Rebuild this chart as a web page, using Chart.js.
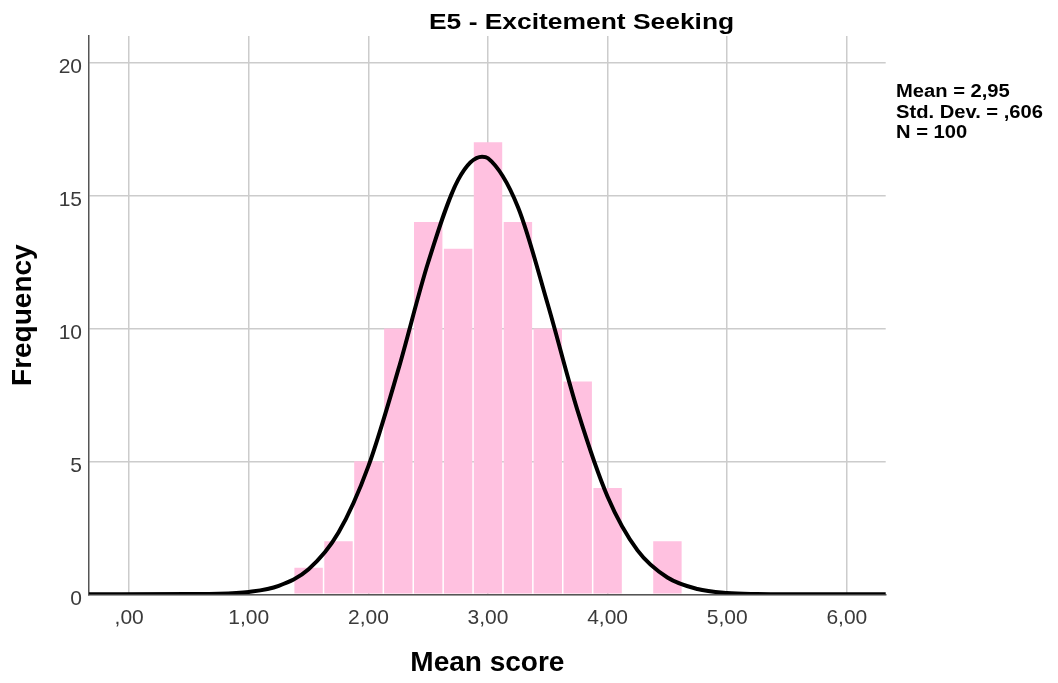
<!DOCTYPE html>
<html><head><meta charset="utf-8">
<script src="https://cdn.jsdelivr.net/npm/chart.js@4.4.1/dist/chart.umd.min.js"></script>
<style>html,body{margin:0;padding:0;background:#fff;overflow:hidden}#wrap{width:1058px;height:683px;position:relative}canvas{display:block}</style>
</head><body><div id="wrap"><canvas id="c" width="1058" height="683"></canvas></div>
<script>
const chartTitle = 'E5 - Excitement Seeking';
const xAxisTitle = 'Mean score';
const yAxisTitle = 'Frequency';
const statsLines = ['Mean = 2,95', 'Std. Dev. = ,606', 'N = 100'];

const binCenters = [1.5, 1.75, 2.0, 2.25, 2.5, 2.75, 3.0, 3.25, 3.5, 3.75, 4.0, 4.25, 4.5];
const binCounts  = [1, 2, 5, 10, 14, 13, 17, 14, 10, 8, 4, 0, 2];

const curveX = [-0.34, 0.5, 0.75, 1.0, 1.25, 1.5, 1.75, 2.0, 2.25, 2.5, 2.75, 2.95, 3.0, 3.25, 3.5, 3.75, 4.0, 4.25, 4.5, 4.75, 5.0, 5.25, 5.5, 6.33];
const curveY = [0, 0.01, 0.02, 0.09, 0.32, 0.94, 2.32, 4.82, 8.45, 12.49, 15.59, 16.46, 16.40, 14.57, 10.90, 6.89, 3.67, 1.65, 0.63, 0.20, 0.05, 0.01, 0, 0];

const xTicks = [0, 1, 2, 3, 4, 5, 6];
const xTickLabels = [',00', '1,00', '2,00', '3,00', '4,00', '5,00', '6,00'];
const yTicks = [0, 5, 10, 15, 20];
const yTickLabels = ['0', '5', '10', '15', '20'];

const FONT = '"Liberation Sans", Arial, sans-serif';
const gridColor = '#cccccc';
const tickColor = '#3a3a3a';

const textPlugin = {
  id: 'extraText',
  afterDraw(chart) {
    const ctx = chart.ctx;
    ctx.save();
    ctx.fillStyle = '#000';
    ctx.textAlign = 'left';
    ctx.textBaseline = 'alphabetic';
    ctx.font = 'bold 22px ' + FONT;
    ctx.save();
    ctx.translate(429, 29);
    ctx.scale(1.2, 1);
    ctx.fillText(chartTitle, 0, 0);
    ctx.restore();
    ctx.font = 'bold 18px ' + FONT;
    statsLines.forEach((t, i) => {
      ctx.save();
      ctx.translate(896, 97 + i * 20.5);
      ctx.scale(1.12, 1);
      ctx.fillText(t, 0, 0);
      ctx.restore();
    });
    ctx.restore();
  }
};

new Chart(document.getElementById('c'), {
  type: 'bar',
  data: {
    datasets: [
      {
        type: 'line',
        data: curveX.map((x, i) => ({ x: x, y: curveY[i] })),
        borderColor: '#000',
        borderWidth: 4,
        pointRadius: 0,
        fill: false,
        cubicInterpolationMode: 'monotone',
        order: 1
      },
      {
        type: 'bar',
        data: binCenters.map((x, i) => ({ x: x, y: binCounts[i] })),
        backgroundColor: '#ffc1e0',
        borderWidth: 0,
        barPercentage: 0.95,
        categoryPercentage: 1,
        order: 2
      }
    ]
  },
  options: {
    responsive: false,
    animation: false,
    devicePixelRatio: 1,
    layout: { padding: { left: 0, top: 36, right: 172.3, bottom: 0 } },
    plugins: { legend: { display: false }, tooltip: { enabled: false }, title: { display: false } },
    scales: {
      x: {
        type: 'linear',
        min: -0.336,
        max: 6.325,
        offset: false,
        afterBuildTicks: s => { s.ticks = xTicks.map(v => ({ value: v })); },
        afterFit: s => { s.height = 88.7; },
        grid: { color: gridColor, lineWidth: 1.5, offset: false, drawTicks: false },
        border: { display: true, color: '#555', width: 1.5 },
        ticks: {
          font: { family: FONT, size: 21 },
          color: tickColor,
          padding: 11,
          maxRotation: 0,
          autoSkip: false,
          callback: v => xTickLabels[xTicks.indexOf(v)]
        },
        title: {
          display: true,
          text: xAxisTitle,
          color: '#000',
          font: { family: FONT, size: 28, weight: 'bold' },
          padding: { top: 0, bottom: 2.7 }
        }
      },
      y: {
        type: 'linear',
        min: 0,
        max: 21,
        afterBuildTicks: s => { s.ticks = yTicks.map(v => ({ value: v })); },
        afterFit: s => { s.width = 89; },
        grid: { color: gridColor, lineWidth: 1.5, drawTicks: false },
        border: { display: true, color: '#555', width: 1.5 },
        ticks: {
          font: { family: FONT, size: 21 },
          color: tickColor,
          padding: 7,
          labelOffset: 4.5,
          autoSkip: false,
          callback: v => yTickLabels[yTicks.indexOf(v)]
        },
        title: {
          display: true,
          text: yAxisTitle,
          color: '#000',
          font: { family: FONT, size: 28, weight: 'bold' },
          padding: { top: 6, bottom: 0 }
        }
      }
    }
  },
  plugins: [textPlugin]
});
</script>
</body></html>
